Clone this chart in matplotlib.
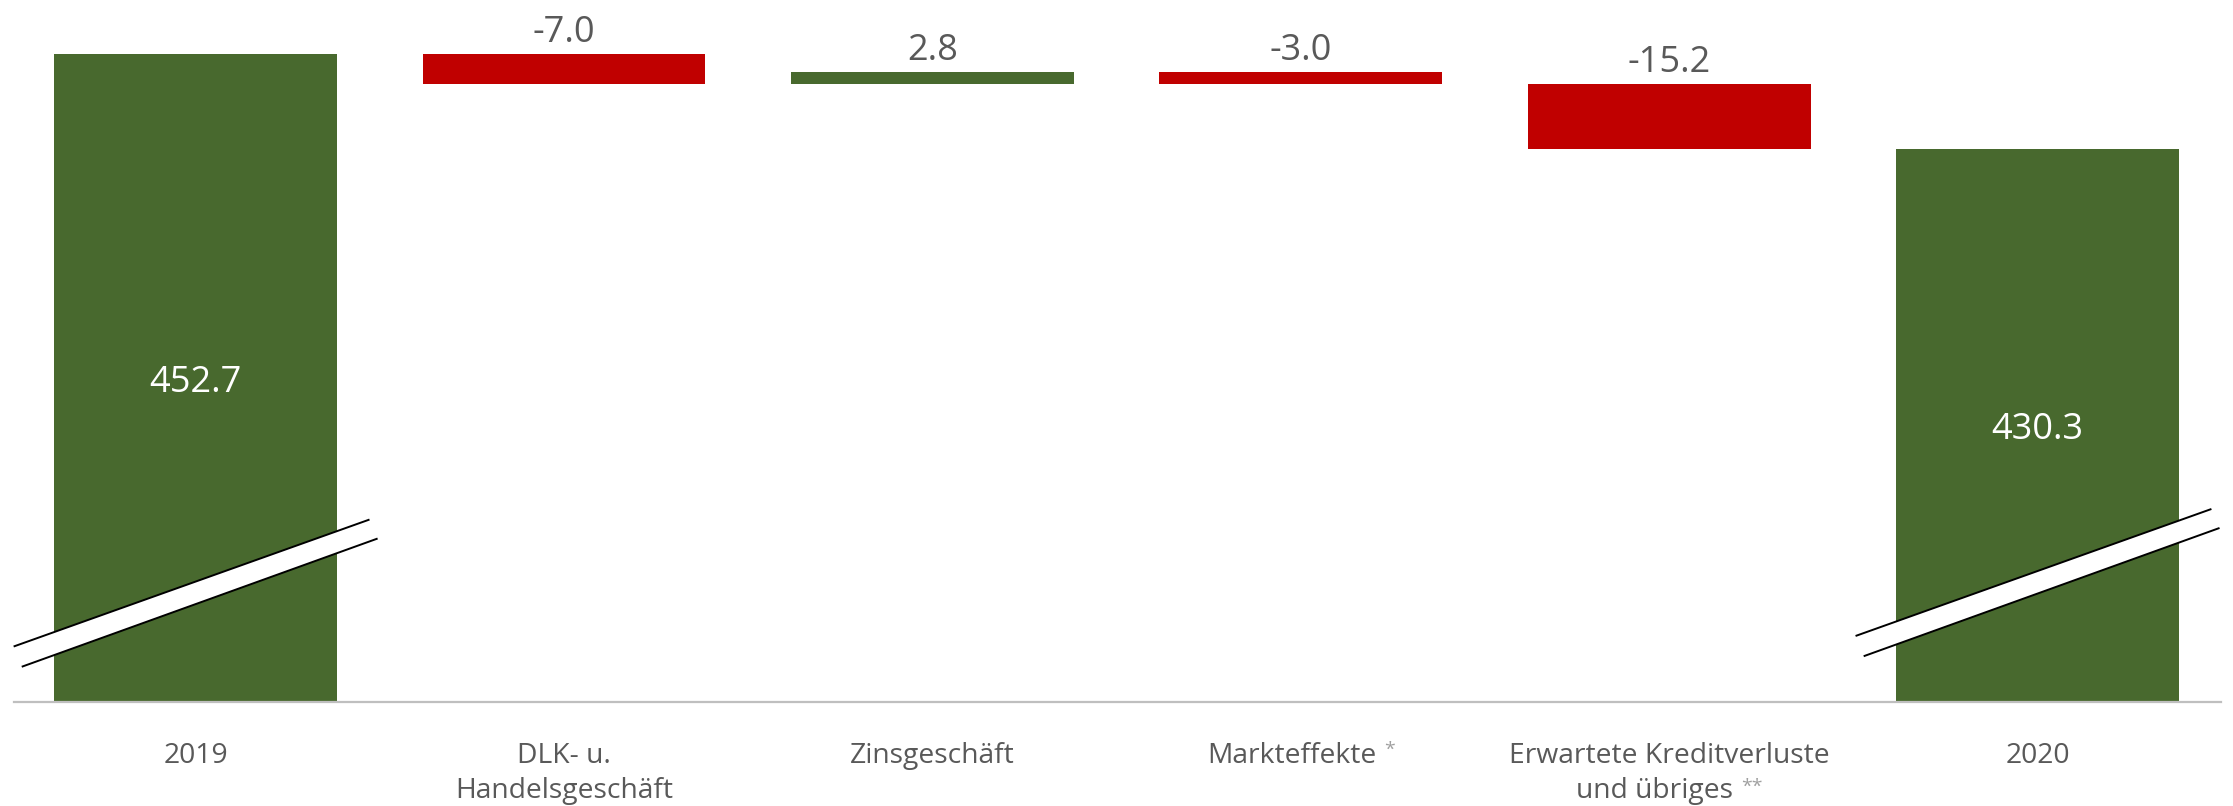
import matplotlib
matplotlib.use("Agg")
import matplotlib.pyplot as plt
from matplotlib.patches import Polygon

plt.rcParams['font.family'] = ['Open Sans', 'DejaVu Sans']

# ---- data ----
categories = ["2019", "DLK- u.\nHandelsgeschäft", "Zinsgeschäft", "Markteffekte",
              "Erwartete Kreditverluste\nund übriges", "2020"]
values = [452.7, -7.0, 2.8, -3.0, -15.2, 430.3]
kinds = ["total", "delta", "delta", "delta", "delta", "total"]
footnotes = ["", "", "", "*", "**", ""]

# ---- style ----
GREEN = "#48692E"
RED = "#C00000"
TEXT = "#595959"
STAR = "#A0A0A0"
AXIS = "#BFBFBF"
Y_LOW, Y_HIGH = 299.1, 465.5
BAR_W = 0.768

W, H, DPI = 2233, 806, 100
fig = plt.figure(figsize=(W / DPI, H / DPI), dpi=DPI)
ax = fig.add_axes([14 / W, (H - 702) / H, (2221 - 14) / W, 702 / H])
ax.set_xlim(-0.493, 5.498)
ax.set_ylim(Y_LOW, Y_HIGH)
for s in ["top", "left", "right"]:
    ax.spines[s].set_visible(False)
ax.spines["bottom"].set_color(AXIS)
ax.spines["bottom"].set_linewidth(1.6)
ax.set_xticks([])
ax.set_yticks([])

running = 0.0
for i, (v, k) in enumerate(zip(values, kinds)):
    if k == "total":
        ax.bar(i, v, width=BAR_W, bottom=0, color=GREEN, zorder=2)
        running = v
        ax.text(i, (Y_LOW + v) / 2, f"{v:.1f}", ha="center", va="center_baseline",
                color="white", fontsize=26, zorder=5)
        # axis-break marker
        yc = 327.3 if i == 0 else 329.8
        ul = (i - 0.494, yc - 15.05)
        ur = (i + 0.472, yc + 15.05)
        ll = (i - 0.472, yc - 4.65 - 15.2)
        lr = (i + 0.494, yc - 4.65 + 15.2)
        ax.add_patch(Polygon([ul, ur, lr, ll], closed=True, facecolor="white",
                             edgecolor="none", zorder=3, clip_on=False))
        ax.plot([ul[0], ur[0]], [ul[1], ur[1]], color="black", lw=1.4, zorder=4,
                solid_capstyle="butt", clip_on=False)
        ax.plot([ll[0], lr[0]], [ll[1], lr[1]], color="black", lw=1.4, zorder=4,
                solid_capstyle="butt", clip_on=False)
    else:
        bottom = min(running, running + v)
        color = RED if v < 0 else GREEN
        ax.bar(i, abs(v), width=BAR_W, bottom=bottom, color=color, zorder=2)
        top = bottom + abs(v)
        ax.annotate(f"{v:.1f}", xy=(i, top), xytext=(0, 12), textcoords="offset pixels",
                    ha="center", va="baseline", color=TEXT, fontsize=26)
        running += v

# ---- category labels ----
line_offsets = [-61, -96]
star_tops = [-39, -76]
stars = []
for i, (cat, fn) in enumerate(zip(categories, footnotes)):
    lines = cat.split("\n")
    for j, line in enumerate(lines):
        t = ax.annotate(line, xy=(i, 0), xycoords=("data", "axes fraction"),
                        xytext=(0, line_offsets[j]), textcoords="offset pixels",
                        ha="center", va="baseline", color=TEXT, fontsize=20.3,
                        annotation_clip=False)
        if fn and j == len(lines) - 1:
            s = ax.annotate(fn, xy=(1, 0), xycoords=(t, "axes fraction"),
                            xytext=(8, star_tops[j]), textcoords="offset pixels",
                            ha="left", va="top", color=STAR, fontsize=14,
                            annotation_clip=False)
            stars.append((t, s, line_offsets[j]))

fig.canvas.draw()
for t, s, off in stars:
    w = s.get_window_extent().width
    t.xyann = (-(8 + w) / 2, off)

fig.savefig("out.png", dpi=DPI, facecolor="white")
